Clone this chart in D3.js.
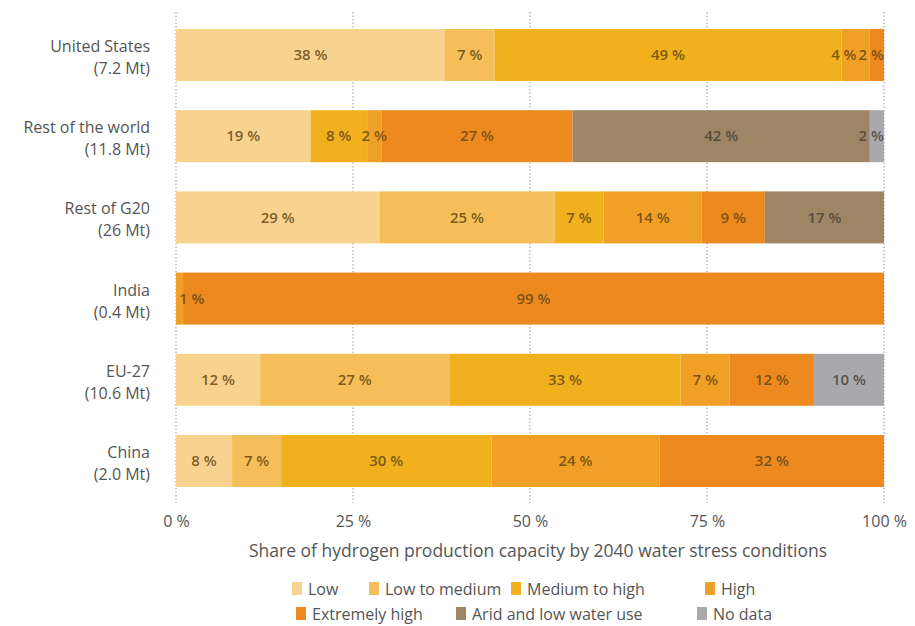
<!DOCTYPE html>
<html>
<head>
<meta charset="utf-8">
<script src="https://cdn.jsdelivr.net/npm/d3@7"></script>
<style>
  html, body { margin: 0; padding: 0; background: #fff; }
  svg { display: block; }
  text { font-family: "Open Sans", "Noto Sans", sans-serif; }
</style>
</head>
<body>
<svg id="chart" width="915" height="626"></svg>
<script>
// Regions and their 2040 hydrogen production capacity
const regions = ["United States", "Rest of the world", "Rest of G20", "India", "EU-27", "China"];
const capacities = ["(7.2 Mt)", "(11.8 Mt)", "(26 Mt)", "(0.4 Mt)", "(10.6 Mt)", "(2.0 Mt)"];

// Water stress categories
const stressLevels = ["Low", "Low to medium", "Medium to high", "High", "Extremely high", "Arid and low water use", "No data"];
const stressColors = ["#f8d38f", "#f4bf58", "#f1b11f", "#f0a026", "#ec891f", "#9d8566", "#a9a9ad"];

// Share (%) of each region's capacity per stress category, in stressLevels order
const lowShare      = [38, 19, 29, 0, 12, 8];
const lowMedShare   = [7, 0, 25, 0, 27, 7];
const medHighShare  = [49, 8, 7, 0, 33, 30];
const highShare     = [4, 2, 14, 1, 7, 24];
const extremeShare  = [2, 27, 9, 99, 12, 32];
const aridShare     = [0, 42, 17, 0, 0, 0];
const noDataShare   = [0, 2, 0, 0, 10, 0];

const xTicks = [0, 25, 50, 75, 100];
const xTitle = "Share of hydrogen production capacity by 2040 water stress conditions";

const seriesValues = [lowShare, lowMedShare, medHighShare, highShare, extremeShare, aridShare, noDataShare];

const svg = d3.select("#chart");

const x = d3.scaleLinear().domain([0, 100]).range([176, 884]);
const y = d3.scaleBand().domain(regions).range([29, 487]).paddingInner(0.36).paddingOuter(0);
const color = d3.scaleOrdinal().domain(stressLevels).range(stressColors);

// Rows: each segment is drawn as a share of the row's rounded total
const rows = regions.map((r, i) => {
  const vals = seriesValues.map(s => s[i]);
  const total = d3.sum(vals);
  let acc = 0;
  const segs = [];
  vals.forEach((v, k) => {
    if (v > 0) {
      segs.push({ region: r, level: stressLevels[k], value: v, x0: acc / total * 100, x1: (acc + v) / total * 100 });
    }
    acc += v;
  });
  return { region: r, segs };
});

// Dotted vertical gridlines
svg.append("g").selectAll("line").data(xTicks).join("line")
  .attr("x1", d => x(d)).attr("x2", d => x(d))
  .attr("y1", 12).attr("y2", 503)
  .attr("stroke", "#9a9aa2").attr("stroke-width", 1)
  .attr("stroke-dasharray", "1.5,2");

// Stacked bars
const rowG = svg.append("g").selectAll("g").data(rows).join("g");
rowG.selectAll("rect").data(d => d.segs).join("rect")
  .attr("x", d => x(d.x0))
  .attr("y", d => y(d.region))
  .attr("width", d => x(d.x1) - x(d.x0))
  .attr("height", y.bandwidth())
  .attr("fill", d => color(d.level));

// Value labels: centred on their segment, kept inside the bar, and nudged apart when crowded
rowG.each(function (row) {
  const labels = d3.select(this).selectAll("text").data(row.segs).join("text")
    .attr("y", d => y(d.region) + y.bandwidth() / 2)
    .attr("dy", "0.35em")
    .attr("text-anchor", "middle")
    .attr("font-size", 15)
    .attr("font-weight", 600)
    .attr("fill", d => d.level === "Arid and low water use" || d.level === "No data" ? "#4a4236" : "#684812")
    .attr("fill-opacity", 0.85)
    .text(d => d.value + " %");
  const items = [];
  labels.each(function (d) {
    const w = this.getComputedTextLength();
    items.push({ node: this, w, cx: (x(d.x0) + x(d.x1)) / 2 });
  });
  const gap = 2;
  // push right from the left edge
  let edge = x(0) + 3;
  items.forEach(it => {
    it.cx = Math.max(it.cx, edge + it.w / 2);
    edge = it.cx + it.w / 2 + gap;
  });
  // push left from the right edge
  edge = x(100);
  for (let k = items.length - 1; k >= 0; k--) {
    const it = items[k];
    it.cx = Math.min(it.cx, edge - it.w / 2);
    edge = it.cx - it.w / 2 - gap;
  }
  items.forEach(it => d3.select(it.node).attr("x", it.cx));
});

// Region labels (two lines)
const catG = svg.append("g").selectAll("text").data(regions).join("text")
  .attr("text-anchor", "end")
  .attr("font-size", 16)
  .attr("fill", "#555");
catG.append("tspan")
  .attr("x", 150).attr("y", d => y(d) + y.bandwidth() / 2 - 3)
  .text(d => d);
catG.append("tspan")
  .attr("x", 150).attr("y", d => y(d) + y.bandwidth() / 2 + 19)
  .text((d, i) => capacities[i]);

// X axis tick labels
const xAxis = d3.axisBottom(x).tickValues(xTicks).tickSize(0).tickPadding(0).tickFormat(d => d + " %");
const axG = svg.append("g").attr("transform", "translate(0,514)").call(xAxis);
axG.select(".domain").remove();
axG.selectAll("text")
  .attr("font-size", 16)
  .attr("fill", "#555")
  .attr("font-family", "'Open Sans', sans-serif")
  .attr("dy", "0.35em").attr("y", 7);

// Axis title
svg.append("text")
  .attr("x", 538).attr("y", 551)
  .attr("dy", "0.35em")
  .attr("text-anchor", "middle")
  .attr("font-size", 17.5)
  .attr("fill", "#555")
  .text(xTitle);

// Legend in two rows
const legendRows = [
  { y: 589, items: [[0, 292], [1, 369], [2, 511], [3, 705]] },
  { y: 614, items: [[4, 296], [5, 456], [6, 697]] }
];
legendRows.forEach(row => {
  const g = svg.append("g").selectAll("g").data(row.items).join("g")
    .attr("transform", d => `translate(${d[1]},${row.y})`);
  g.append("rect")
    .attr("x", 0).attr("y", -7).attr("width", 10).attr("height", 13)
    .attr("fill", d => stressColors[d[0]]);
  g.append("text")
    .attr("x", 16).attr("dy", "0.35em")
    .attr("font-size", 16)
    .attr("fill", "#555")
    .text(d => stressLevels[d[0]]);
});
</script>
</body>
</html>
